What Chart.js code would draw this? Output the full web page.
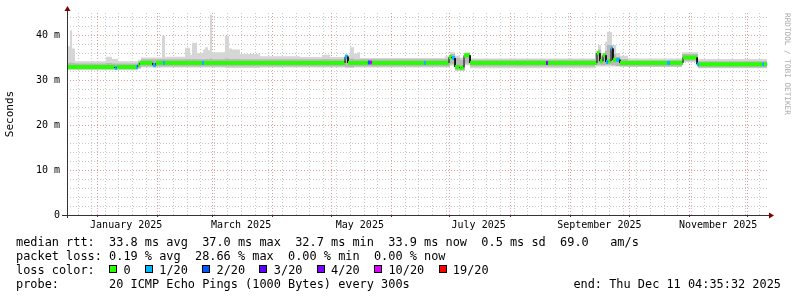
<!DOCTYPE html>
<html lang="en">
  <head>
    <meta charset="UTF-8" />
    <title>smokeping</title>
    <script src="https://cdn.jsdelivr.net/npm/chart.js"></script>
    <style>
      body { margin: 0; background: #fff; }
      .wrap { position: relative; width: 797px; height: 297px; overflow: hidden; }
      .txt {
        position: absolute;
        left: 16px;
        font: 11.9px "DejaVu Sans Mono", monospace;
        line-height: 14px;
        white-space: pre;
        color: #000;
      }
      .end { left: auto; right: 16px; }
      .sq {
        display: inline-block;
        width: 8px;
        height: 8px;
        border: 1px solid #000;
        box-sizing: border-box;
        margin-right: calc(1ch - 8px);
        vertical-align: 1px;
      }
      .credit {
        position: absolute;
        left: 792px;
        top: 13px;
        transform: rotate(90deg);
        transform-origin: 0 0;
        font: 7.7px "DejaVu Sans Mono", monospace;
        line-height: 9px;
        color: #aaa;
        white-space: pre;
      }
    </style>
  </head>
  <body>
    <div class="wrap">
      <canvas id="myChart" width="797" height="297"></canvas>
      <div class="txt" style="top: 235px">median rtt:  33.8 ms avg  37.0 ms max  32.7 ms min  33.9 ms now  0.5 ms sd  69.0   am/s</div>
      <div class="txt" style="top: 249px">packet loss: 0.19 % avg  28.66 % max  0.00 % min  0.00 % now</div>
      <div class="txt" id="lossRow" style="top: 263px"></div>
      <div class="txt" style="top: 277px">probe:       20 ICMP Echo Pings (1000 Bytes) every 300s</div>
      <div class="txt end" style="top: 277px">end: Thu Dec 11 04:35:32 2025</div>
      <div class="credit">RRDTOOL / TOBI OETIKER</div>
    </div>
    <script>
      // x values are days since 2025-01-01
      const dayMin = -15.4;
      const dayMax = 344.1;
      const xLabels = ["January 2025", "March 2025", "May 2025", "July 2025", "September 2025", "November 2025"];
      const xLabelDays = [15, 74, 135, 196, 258, 319];
      const monthStarts = [0, 31, 59, 90, 120, 151, 181, 212, 243, 273, 304, 334];
      const firstSunday = -10;
      const yTicks = [0, 10, 20, 30, 40];

      const lossColors = ["#26ff00", "#00b8ff", "#0059ff", "#5e00ff", "#7e00ff", "#dd00ff", "#ff0000"];
      const lossLabels = ["0", "1/20", "2/20", "3/20", "4/20", "10/20", "19/20"];

      // smoke (ms), step starts
      const smokeDay = [-15.4, -13.9, -12.8, -11.3, 4.6, 7.7, 10.8, 21.1, 22.6, 33.4,
        34.9, 45.2, 47.8, 48.8, 51.4, 54.5, 55.5, 57.0, 58.0, 59.1,
        65.7, 67.8, 69.3, 73.4, 83.7, 104.3, 115.6, 119.7, 127.4, 129.9,
        132.0, 133.5, 135.1, 178.7, 181.3, 183.9, 186.4, 189.0, 191.6, 255.8,
        257.3, 258.9, 260.9, 261.9, 264.5, 266.6, 268.6, 272.7, 300.5, 308.7];
      const smokeMax = [37.5, 41.0, 37.0, 34.2, 35.2, 34.7, 34.2, 34.5, 35.0, 39.8,
        35.2, 37.2, 35.6, 38.3, 36.0, 36.8, 37.3, 36.6, 44.5, 36.2,
        39.8, 37.0, 36.8, 35.8, 35.3, 35.1, 35.6, 35.1, 35.6, 37.3,
        35.8, 36.2, 34.9, 35.3, 36.2, 35.4, 35.0, 36.2, 34.8, 36.5,
        37.8, 36.0, 38.5, 40.7, 37.8, 36.0, 35.4, 34.8, 36.2, 34.7];
      const smokeHi = [33.8, 33.9, 33.8, 33.7, 33.8, 33.7, 33.7, 34.2, 34.6, 34.7,
        34.6, 34.7, 34.6, 34.7, 34.6, 34.6, 34.7, 34.6, 34.8, 34.6,
        34.8, 34.7, 34.7, 34.6, 34.6, 34.6, 34.7, 34.6, 34.9, 34.8,
        34.6, 34.6, 34.6, 34.7, 35.8, 34.9, 34.5, 36.0, 34.5, 36.0,
        36.8, 35.3, 36.5, 37.8, 35.8, 35.1, 34.7, 34.4, 35.8, 34.2];
      const smokeLo = [32.4, 32.4, 32.4, 32.4, 32.4, 32.4, 32.4, 32.6, 33.0, 33.0,
        33.0, 33.0, 33.0, 33.0, 33.0, 33.0, 33.0, 33.0, 33.0, 33.0,
        33.0, 33.0, 33.0, 33.0, 33.0, 33.0, 33.0, 33.0, 32.9, 32.9,
        33.0, 33.0, 33.0, 33.0, 33.5, 32.2, 32.2, 33.7, 33.0, 33.4,
        33.4, 33.3, 33.4, 33.4, 33.3, 33.1, 33.1, 33.0, 34.3, 32.8];
      const smokeMin = [32.2, 32.2, 32.2, 32.2, 32.2, 32.2, 32.2, 32.5, 32.8, 32.8,
        32.8, 32.8, 32.8, 32.8, 32.8, 32.8, 32.8, 32.8, 32.8, 32.8,
        32.7, 32.7, 32.7, 32.7, 32.8, 32.8, 32.8, 32.8, 32.7, 32.7,
        32.8, 32.8, 32.8, 32.8, 33.2, 32.0, 32.0, 33.3, 32.6, 33.0,
        33.0, 33.0, 33.0, 33.0, 33.0, 33.0, 32.9, 32.9, 34.0, 32.6];

      // median rtt (ms) and loss class, step starts
      const medDay = [-15.4, 9.2, 10.3, 20.0, 21.1, 22.1, 28.8, 30.3, 33.9, 34.9,
        53.9, 55.0, 127.4, 128.9, 139.2, 140.2, 141.2, 167.9, 169.0, 180.8,
        182.3, 183.9, 186.4, 187.5, 188.5, 191.6, 230.6, 231.6, 256.8, 258.3,
        259.9, 261.4, 262.5, 264.0, 265.0, 266.6, 268.6, 292.8, 294.3, 301.0,
        308.2, 309.2, 341.6, 342.6];
      const medVal = [32.9, 32.7, 32.9, 32.9, 33.4, 33.8, 33.3, 33.8, 33.8, 33.8,
        33.8, 33.8, 35.2, 33.8, 33.9, 33.9, 33.8, 33.8, 33.8, 35.1,
        34.9, 32.9, 32.7, 32.8, 35.5, 33.8, 33.8, 33.8, 36.0, 34.2,
        35.5, 34.0, 34.2, 37.0, 34.5, 34.5, 33.8, 33.8, 33.8, 35.0,
        33.5, 33.5, 33.5, 33.5];
      const medLoss = [0, 1, 0, 1, 0, 0, 1, 0, 1, 0,
        1, 0, 1, 0, 2, 5, 0, 1, 0, 0,
        1, 0, 0, 0, 0, 0, 4, 0, 0, 0,
        0, 1, 0, 1, 0, 1, 0, 1, 0, 0,
        1, 0, 1, 0];

      document.getElementById("lossRow").innerHTML =
        "loss color:  " +
        lossLabels.map((l, i) => '<span class="sq" style="background:' + lossColors[i] + '"></span> ' + l).join("  ");

      // hold each value until the next start: (start, v) -> (next start, v)
      const steps = (days, vals) => {
        const pts = [];
        days.forEach((d, i) => {
          const next = i + 1 < days.length ? days[i + 1] : dayMax;
          pts.push({ x: d, y: vals[i] }, { x: next, y: vals[i] });
        });
        return pts;
      };

      const band = (data, fill, color) => ({
        data: data,
        fill: fill,
        backgroundColor: color,
        borderColor: "transparent",
        borderWidth: 0,
        pointRadius: 0,
      });

      const rrdGrid = {
        id: "rrdGrid",
        beforeDatasetsDraw(chart) {
          const { ctx, chartArea: a, scales } = chart;
          const x = scales.x, y = scales.y;
          ctx.save();
          ctx.lineWidth = 1;
          ctx.setLineDash([1, 2]);
          const hline = (v, c) => {
            const py = Math.round(y.getPixelForValue(v)) + 0.5;
            ctx.strokeStyle = c;
            ctx.beginPath();
            ctx.moveTo(a.left, py);
            ctx.lineTo(a.right, py);
            ctx.stroke();
          };
          const vline = (v, c) => {
            const px = Math.round(x.getPixelForValue(v)) + 0.5;
            ctx.strokeStyle = c;
            ctx.beginPath();
            ctx.moveTo(px, a.top);
            ctx.lineTo(px, a.bottom);
            ctx.stroke();
          };
          const minor = "#c8c8c8";
          const major = "#e09a9a";
          for (let v = 2; v < 45; v += 2) if (v % 10) hline(v, minor);
          for (let d = firstSunday; d < dayMax; d += 7) vline(d, minor);
          yTicks.forEach((v) => v > 0 && hline(v, major));
          monthStarts.forEach((d) => vline(d, major));
          ctx.restore();
        },
        afterDatasetsDraw(chart) {
          const { ctx, chartArea: a, scales } = chart;
          const x = scales.x;
          const bx = Math.round(a.bottom) + 0.5;
          const lx = Math.round(a.left) + 0.5;
          ctx.save();
          ctx.strokeStyle = "#333";
          ctx.lineWidth = 1;
          ctx.beginPath();
          ctx.moveTo(a.left - 5, bx);
          ctx.lineTo(a.right + 3, bx);
          ctx.moveTo(lx, a.bottom + 3);
          ctx.lineTo(lx, a.top - 4);
          monthStarts.forEach((d) => {
            const px = Math.round(x.getPixelForValue(d)) + 0.5;
            ctx.moveTo(px, a.bottom);
            ctx.lineTo(px, a.bottom + 2);
          });
          ctx.stroke();
          ctx.fillStyle = "#800000";
          ctx.beginPath();
          ctx.moveTo(lx, a.top - 7);
          ctx.lineTo(lx - 3, a.top - 2);
          ctx.lineTo(lx + 3, a.top - 2);
          ctx.closePath();
          ctx.fill();
          ctx.beginPath();
          ctx.moveTo(a.right + 7, bx);
          ctx.lineTo(a.right + 2, bx - 3);
          ctx.lineTo(a.right + 2, bx + 3);
          ctx.closePath();
          ctx.fill();
          ctx.restore();
        },
      };

      Chart.defaults.font.family = "'DejaVu Sans Mono', monospace";
      Chart.defaults.font.size = 10;
      Chart.defaults.color = "#000";

      const ctx = document.getElementById("myChart");
      new Chart(ctx, {
        type: "line",
        data: {
          datasets: [
            {
              data: steps(medDay, medVal),
              borderWidth: 4,
              borderColor: lossColors[0],
              borderCapStyle: "butt",
              pointRadius: 0,
              fill: false,
              segment: {
                borderColor: (c) => (c.p0DataIndex % 2 === 0 ? lossColors[medLoss[c.p0DataIndex / 2]] : "#000"),
                borderWidth: (c) => (c.p0DataIndex % 2 === 0 ? 4 : 1),
              },
            },
            band(steps(smokeDay, smokeHi), "+1", "#b8b8b8"),
            band(steps(smokeDay, smokeLo), false, "transparent"),
            band(steps(smokeDay, smokeMax), "+1", "#d6d6d6"),
            band(steps(smokeDay, smokeMin), false, "transparent"),
          ],
        },
        options: {
          responsive: false,
          animation: false,
          devicePixelRatio: 1,
          layout: { padding: { left: 0, right: 30, top: 13, bottom: 62 } },
          plugins: {
            legend: { display: false },
            tooltip: { enabled: false },
          },
          scales: {
            x: {
              type: "linear",
              min: dayMin,
              max: dayMax,
              grid: { display: false, drawTicks: false },
              border: { display: false },
              ticks: {
                padding: 4,
                autoSkip: false,
                maxRotation: 0,
                minRotation: 0,
                callback: (v, i) => xLabels[i],
              },
              afterBuildTicks: (s) => {
                s.ticks = xLabelDays.map((d) => ({ value: d }));
              },
              afterFit: (s) => {
                s.height = 20;
              },
            },
            y: {
              min: 0,
              max: 44.9,
              grid: { display: false, drawTicks: false },
              border: { display: false },
              ticks: {
                padding: 7,
                callback: (v) => (v === 0 ? "0" : v + " m"),
              },
              afterBuildTicks: (s) => {
                s.ticks = yTicks.map((v) => ({ value: v }));
              },
              afterFit: (s) => {
                s.width = 67;
              },
              title: {
                display: true,
                text: "Seconds",
                font: { size: 11 },
                padding: { top: 4, bottom: 0 },
              },
            },
          },
        },
        plugins: [rrdGrid],
      });
    </script>
  </body>
</html>
